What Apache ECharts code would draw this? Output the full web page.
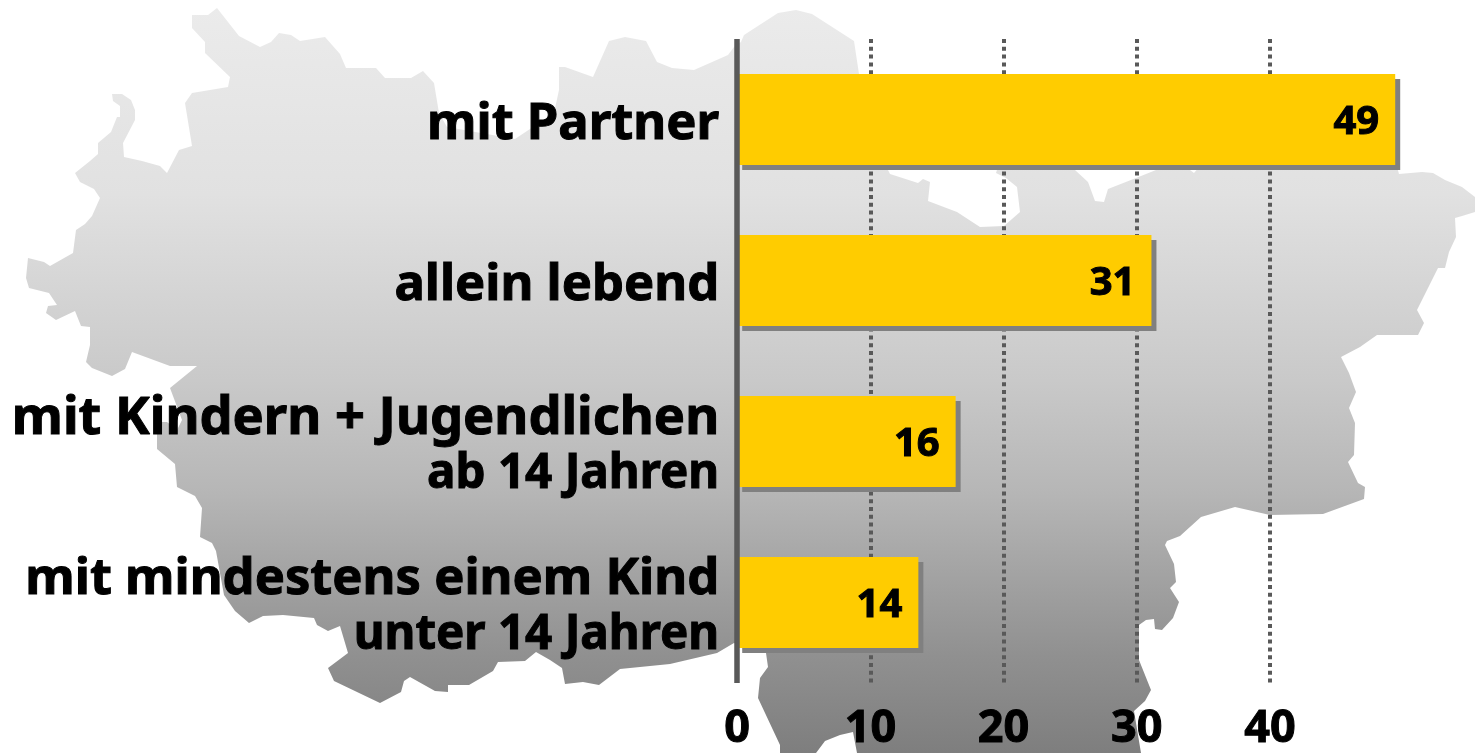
<!DOCTYPE html>
<html><head><meta charset="utf-8">
<style>html,body{margin:0;padding:0;background:#fff}#c{width:1475px;height:753px}</style>
<script src="https://cdn.jsdelivr.net/npm/echarts@6/dist/echarts.min.js"></script>
</head><body><div id="c"></div>
<script>
const mainLines = ['mit Partner','allein lebend','mit Kindern + Jugendlichen','mit mindestens einem Kind'];
const subLines = ['','','ab 14 Jahren','unter 14 Jahren'];
const shares = [49.4,31.1,16.4,13.6];
const shownShares = [49,31,16,14];
const tickLabels = ['0','10','20','30','40'];
const FONT = '"Noto Sans"';
const regionOutline = [[192,15],[208,15],[217,8],[239,36],[260,47],[271,42],[279,33],[291,35],[300,41],[325,37],[340,54],[346,68],[376,68],[385,78],[411,78],[423,71],[434,83],[439,113],[447,127],[515,139],[554,113],[559,90],[559,67],[565,67],[593,77],[609,41],[625,37],[646,41],[657,62],[672,68],[694,70],[728,55],[734,47],[741,42],[744,35],[778,13],[796,10],[812,14],[854,41],[859,74],[870,150],[888,170],[890,174],[918,183],[923,179],[930,182],[928,201],[957,212],[980,227],[1004,226],[1020,212],[1017,187],[1006,178],[996,173],[1000,160],[1070,160],[1075,170],[1088,182],[1095,201],[1104,202],[1108,189],[1136,178],[1156,170],[1190,170],[1194,173],[1205,160],[1395,160],[1399,174],[1422,172],[1433,173],[1445,180],[1462,187],[1475,197],[1475,212],[1462,216],[1455,218],[1456,237],[1449,252],[1445,268],[1438,268],[1417,310],[1424,323],[1418,335],[1377,335],[1360,347],[1341,357],[1349,373],[1356,392],[1349,408],[1355,423],[1354,455],[1348,462],[1358,483],[1365,487],[1364,499],[1323,514],[1270,515],[1235,507],[1201,517],[1180,536],[1167,541],[1165,545],[1174,564],[1176,582],[1170,588],[1179,602],[1173,618],[1162,630],[1155,629],[1154,619],[1146,620],[1139,625],[1139,660],[1151,690],[1145,701],[1134,711],[1141,753],[857,753],[853,732],[840,735],[825,741],[816,753],[780,753],[780,745],[758,698],[760,678],[768,667],[766,653],[734,643],[717,653],[670,664],[620,669],[599,685],[583,682],[565,684],[562,668],[550,660],[536,652],[525,661],[498,662],[493,671],[469,685],[448,685],[448,692],[435,691],[410,677],[404,681],[401,692],[380,703],[334,681],[328,668],[348,653],[340,626],[328,631],[317,625],[314,618],[283,615],[263,616],[249,623],[235,611],[224,595],[216,551],[212,543],[200,537],[202,508],[195,496],[177,487],[175,464],[157,449],[157,422],[167,422],[177,430],[182,420],[170,388],[197,366],[170,366],[132,352],[125,369],[112,376],[92,368],[86,362],[90,345],[90,327],[81,326],[75,311],[56,320],[46,313],[48,306],[57,305],[49,293],[29,288],[26,278],[28,258],[44,262],[50,266],[73,253],[76,230],[85,224],[92,216],[100,198],[94,189],[80,182],[75,173],[90,161],[98,154],[98,143],[111,132],[117,117],[120,117],[120,106],[113,101],[112,94],[122,94],[131,100],[135,110],[135,120],[123,143],[124,157],[142,161],[160,166],[167,173],[179,150],[192,146],[185,103],[192,93],[228,87],[230,77],[205,53],[205,42],[192,28]];

const bold = {fontFamily:FONT,fontWeight:'bold',color:'#000',textBorderColor:'#000',textBorderWidth:1};
const chart = echarts.init(document.getElementById('c'));
chart.setOption({
  animation:false,
  backgroundColor:'#fff',
  graphic:[{type:'polygon',z:-10,silent:true,shape:{points:regionOutline},
    style:{fill:new echarts.graphic.LinearGradient(0,0,0,1,[
      {offset:0,color:'#ebebeb'},{offset:0.25,color:'#e1e1e1'},{offset:0.5,color:'#c9c9c9'},
      {offset:0.65,color:'#b6b6b6'},{offset:0.87,color:'#909090'},{offset:1,color:'#7e7e7e'}])}}],
  grid:{left:737.2,top:39,width:666,height:644,containLabel:false,outerBoundsMode:'none'},
  xAxis:{type:'value',min:0,max:50,interval:10,
    axisLine:{show:false},axisTick:{show:false},
    splitLine:{show:true,showMinLine:false,showMaxLine:false,lineStyle:{color:'#595959',width:4,type:[4,3.8]}},
    axisLabel:{show:true,showMaxLabel:false,margin:24,...bold,fontSize:45,
      formatter:(v)=>tickLabels.includes(String(v))?String(v):''}},
  yAxis:{type:'category',inverse:true,data:mainLines.map((m,i)=>m+'|'+subLines[i]),z:5,
    axisLine:{show:true,lineStyle:{color:'#595959',width:5.5,cap:'butt'}},axisTick:{show:false},
    axisLabel:{margin:18,align:'right',color:'#000',padding:[10,0,0,0],
      formatter:(v)=>{const p=v.split('|');const k=v.startsWith('mit Kindern')?'c':'a';
        return p[1]?`{${k}|${p[0]}}\n{b|${p[1]}}`:`{${k}|${p[0]}}`;},
      rich:{a:{...bold,fontSize:50.7,lineHeight:55,align:'right'},
            c:{...bold,fontSize:52.4,lineHeight:55,align:'right'},
            b:{...bold,fontSize:47.5,lineHeight:55,align:'right'}}}},
  series:[{type:'bar',data:shares,barWidth:91,
    itemStyle:{color:'#ffcc00',shadowColor:'#808080',shadowBlur:0,shadowOffsetX:5,shadowOffsetY:5},
    label:{show:true,position:'insideRight',distance:16,offset:[0,3],...bold,fontSize:40,
      formatter:(p)=>String(shownShares[p.dataIndex])}}]
});
</script></body></html>
